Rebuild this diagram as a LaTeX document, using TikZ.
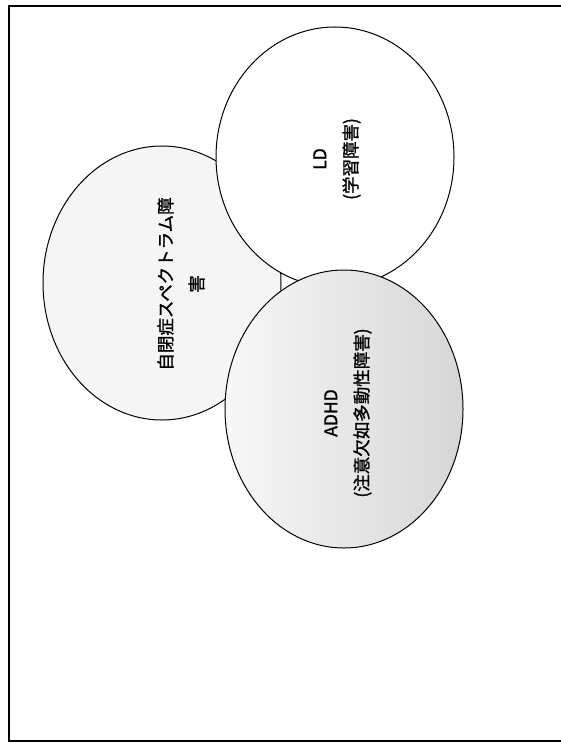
\documentclass[tikz,border=0pt]{standalone}
\usepackage{fontspec}
\newfontfamily\jpfont{Noto Sans CJK JP}[FakeBold=1.3]
\usetikzlibrary{shapes.geometric}

\begin{document}
\begin{tikzpicture}[
    x=1pt, y=-1pt,
    every node/.style={font=\jpfont\fontsize{17.5}{31}\selectfont},
    blob/.style={ellipse, draw, line width=1pt, inner sep=0pt, minimum width=238pt},
    tag/.style={rotate=90, align=center}
]
\useasboundingbox (0,0) rectangle (561,743);

% Frame (open on the right)
\draw[line width=2pt] (561,6) -- (9,6) -- (9,741) -- (561,741);

% Autism spectrum (left)
\node[blob, minimum height=274pt, fill=gray!8] (Asd) at (162,283) {};

% LD (top right)
\node[blob, minimum height=260pt, fill=white] (LD) at (335,157) {};

% ADHD (bottom right)
\node[blob, minimum height=278pt, left color=gray!6, right color=gray!32] (ADHD) at (344,409) {};

% Labels
\node[tag] (AsdT) at (181,284) {自閉症スペクトラム障\\害};
\node[tag] (LDT) at (337,159) {LD\\(学習障害)};
\node[tag] (ADHDT) at (348,413) {ADHD\\(注意欠如多動性障害)};

\end{tikzpicture}
\end{document}
